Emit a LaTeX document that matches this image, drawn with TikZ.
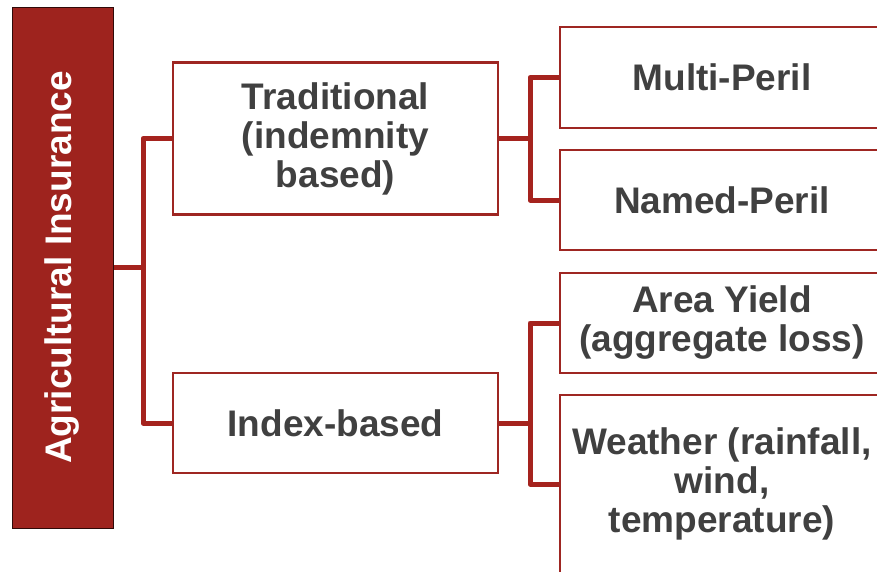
\documentclass[tikz,border=0pt]{standalone}
\usepackage{fontspec}
\setmainfont{Liberation Sans}
\definecolor{boxred}{RGB}{158,38,34}
\definecolor{fillred}{RGB}{158,35,30}
\definecolor{connred}{RGB}{165,35,30}
\definecolor{txtgray}{RGB}{64,64,64}
\begin{document}
\begin{tikzpicture}[x=1pt,y=-1pt,
  box/.style={draw=boxred,line width=2.5pt,fill=white,align=center,inner sep=0pt,
    text=txtgray,font=\fontsize{37}{39}\selectfont\bfseries},
  conn/.style={draw=connred,line width=5pt,line join=round}]
\useasboundingbox (0,0) rectangle (877,571);
\clip (0,0) rectangle (877,571);
\node[draw=black!70!fillred,line width=1pt,fill=fillred,rotate=90,minimum width=521pt,minimum height=101pt,
  inner sep=0pt,text=white,font=\fontsize{37}{39}\selectfont\bfseries] (agri) at (62.5,267.5) {Agricultural Insurance};
\node[box,minimum width=325pt,minimum height=152pt] (trad) at (335.5,138.5) {Traditional\\(indemnity\\based)};
\node[box,minimum width=325pt,minimum height=100pt] (idx) at (335.5,423) {Index-based};
\node[box,minimum width=324pt,minimum height=101pt] (multi) at (722,77.5) {Multi-Peril};
\node[box,minimum width=324pt,minimum height=100pt] (named) at (722,200) {Named-Peril};
\node[box,minimum width=324pt,minimum height=100pt] (area) at (722,323) {Area Yield\\(aggregate loss)};
\node[box,minimum width=324pt,minimum height=178pt] (weather) at (722,484) {Weather (rainfall,\\wind,\\temperature)};
\coordinate (b1) at (143,267.5);
\coordinate (b2) at (530,138.5);
\coordinate (b3) at (530,423);
\draw[conn] (agri.south) -- (b1);
\draw[conn] (trad.west) -| (b1) |- (idx.west);
\draw[conn] (trad.east) -- (b2);
\draw[conn] (multi.west) -| (b2) |- (named.west);
\draw[conn] (idx.east) -- (b3);
\draw[conn] (area.west) -| (b3) |- (weather.west);
\end{tikzpicture}
\end{document}
